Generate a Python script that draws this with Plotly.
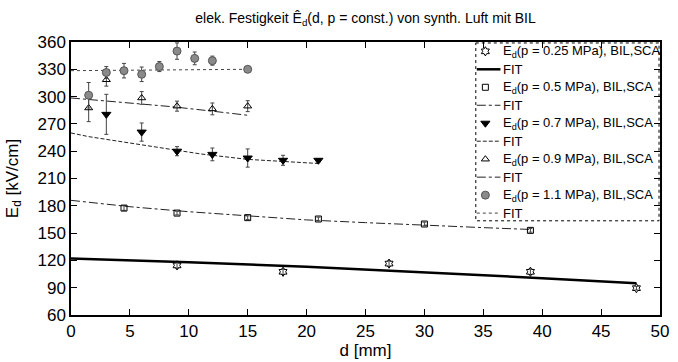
import plotly.graph_objects as go

# ---------------- data ----------------
d_025 = [9, 18, 27, 39, 48]
E_025 = [114.5, 107.5, 116.5, 107.5, 89.5]
err_025 = [3, 3, 3, 3, 2]
fit_d_025 = [0, 10, 20, 30, 40, 48]
fit_E_025 = [122, 118, 113, 107, 100.5, 95]

d_05 = [4.5, 9, 15, 21, 30, 39]
E_05 = [177.5, 172, 167, 165.5, 160, 153]
err_05 = [2.5, 2, 2, 2, 2, 2]
fit_d_05 = [0, 5, 10, 15, 20, 25, 30, 35, 39]
fit_E_05 = [186, 179, 173.5, 169, 164.5, 161.5, 158.5, 156, 154]

d_07 = [3, 6, 9, 12, 15, 18, 21]
E_07 = [280.5, 261, 240, 236.5, 232.5, 230, 230]
err_07 = [22, 10, 5, 7, 10, 5.5, 2]
fit_d_07 = [0, 1.5, 5, 8, 11, 15, 18, 21]
fit_E_07 = [260, 256, 249, 243, 237, 231, 228.5, 226.5]

d_09 = [1.5, 3, 6, 9, 12, 15]
E_09 = [287.5, 318.5, 298.5, 289.5, 286.5, 289.5]
err_09 = [15, 7, 7, 5.5, 6.5, 6]
fit_d_09 = [0, 5, 8.5, 12, 15]
fit_E_09 = [298.5, 293, 289, 284, 279.5]

d_11 = [1.5, 3, 4.5, 6, 7.5, 9, 10.5, 12, 15]
E_11 = [301.5, 326.5, 328.5, 324.5, 333, 350, 342, 339.5, 330]
err_11 = [14, 6.5, 8, 8, 5.5, 9, 7, 5, 2]
fit_d_11 = [0, 7.5, 15]
fit_E_11 = [328.5, 329.3, 330]

series_labels = [
    "E<sub>d</sub>(p = 0.25 MPa), BIL,SCA", "FIT",
    "E<sub>d</sub>(p = 0.5 MPa), BIL,SCA", "FIT",
    "E<sub>d</sub>(p = 0.7 MPa), BIL,SCA", "FIT",
    "E<sub>d</sub>(p = 0.9 MPa), BIL,SCA", "FIT",
    "E<sub>d</sub>(p = 1.1 MPa), BIL,SCA", "FIT",
]
x_ticks = [0, 5, 10, 15, 20, 25, 30, 35, 40, 45, 50]
y_ticks = [60, 90, 120, 150, 180, 210, 240, 270, 300, 330, 360]

FONT = "Arial, Liberation Sans, sans-serif"
ERR = dict(type="data", thickness=1, width=2, color="#444")

markers = [
    dict(symbol="hexagram-open", size=7, color="black", line=dict(width=1, color="black")),
    dict(symbol="square-open", size=6, color="black", line=dict(width=1, color="black")),
    dict(symbol="triangle-down", size=8, color="black", line=dict(width=1, color="black")),
    dict(symbol="triangle-up-open", size=7, color="black", line=dict(width=1, color="black")),
    dict(symbol="circle", size=8, color="#8a8a8a", line=dict(width=1, color="#555")),
]
fitlines = [
    dict(color="black", width=2.5, dash="solid"),
    dict(color="#222", width=1, dash="dashdot"),
    dict(color="#222", width=1, dash="4px,2px"),
    dict(color="#222", width=1, dash="dashdot"),
    dict(color="#444", width=1, dash="dot"),
]

data_sets = [
    (d_025, E_025, err_025, fit_d_025, fit_E_025),
    (d_05, E_05, err_05, fit_d_05, fit_E_05),
    (d_07, E_07, err_07, fit_d_07, fit_E_07),
    (d_09, E_09, err_09, fit_d_09, fit_E_09),
    (d_11, E_11, err_11, fit_d_11, fit_E_11),
]

fig = go.Figure()
for i, (dx, ey, er, fx, fy) in enumerate(data_sets):
    fig.add_trace(go.Scatter(x=fx, y=fy, mode="lines", line=fitlines[i],
                             showlegend=False, hoverinfo="skip"))
    fig.add_trace(go.Scatter(x=dx, y=ey, mode="markers", marker=markers[i],
                             error_y=dict(array=er, **ERR), showlegend=False))

# ---------------- custom legend (pixel space overlay axes) ----------------
L, R, T, B = 71, 9, 42, 36
W, H = 678, 362
box_x0, box_x1, box_y0, box_y1 = 482, 668, 43, 228
row0, row_gap = 51.7, 18.7
sym_x, line_x0, line_x1, text_x = 491.7, 483, 507, 508

annotations = []
for k, lab in enumerate(series_labels):
    yc = row0 + row_gap * k
    s = k // 2
    if k % 2 == 0:
        fig.add_trace(go.Scatter(x=[sym_x], y=[yc], xaxis="x2", yaxis="y2", mode="markers",
                                 marker=markers[s], showlegend=False, hoverinfo="skip",
                                 cliponaxis=False))
    else:
        fig.add_trace(go.Scatter(x=[line_x0, line_x1], y=[yc, yc], xaxis="x2", yaxis="y2",
                                 mode="lines", line=fitlines[s], showlegend=False,
                                 hoverinfo="skip", cliponaxis=False))
    annotations.append(dict(x=text_x, y=yc, xref="x2", yref="y2", text=lab, showarrow=False,
                            xanchor="left", yanchor="middle",
                            font=dict(family=FONT, size=13, color="black")))

axis_common = dict(showline=True, linecolor="black", linewidth=1.5, mirror="ticks",
                   ticks="inside", ticklen=6, tickwidth=1, tickcolor="black",
                   showgrid=False, zeroline=False,
                   tickfont=dict(family=FONT, size=17, color="black"))

fig.update_layout(
    width=W, height=H,
    margin=dict(l=L, r=R, t=T, b=B),
    paper_bgcolor="white", plot_bgcolor="white",
    title=dict(text="elek. Festigkeit Ê<sub>d</sub>(d, p = const.) von synth. Luft mit BIL",
               x=0.5, xref="paper", xanchor="center", y=1 - 18 / H, yref="container",
               yanchor="middle", font=dict(family=FONT, size=14, color="black")),
    xaxis=dict(range=[0, 50], tickvals=x_ticks, title=dict(text="d [mm]", standoff=0,
               font=dict(family=FONT, size=17, color="black")), **axis_common),
    yaxis=dict(range=[60, 360], tickvals=y_ticks, title=dict(text="E<sub>d</sub> [kV/cm]",
               font=dict(family=FONT, size=17, color="black")), **axis_common),
    xaxis2=dict(overlaying="x", range=[L, W - R], visible=False, fixedrange=True),
    yaxis2=dict(overlaying="y", range=[H - B, T], visible=False, fixedrange=True),
    shapes=[dict(type="rect", xref="x2", yref="y2", x0=box_x0, x1=box_x1, y0=box_y0, y1=box_y1,
                 line=dict(color="black", width=1, dash="dot"), fillcolor="rgba(0,0,0,0)",
                 layer="above")],
    annotations=annotations,
    showlegend=False,
)

fig.write_html("out.html")
